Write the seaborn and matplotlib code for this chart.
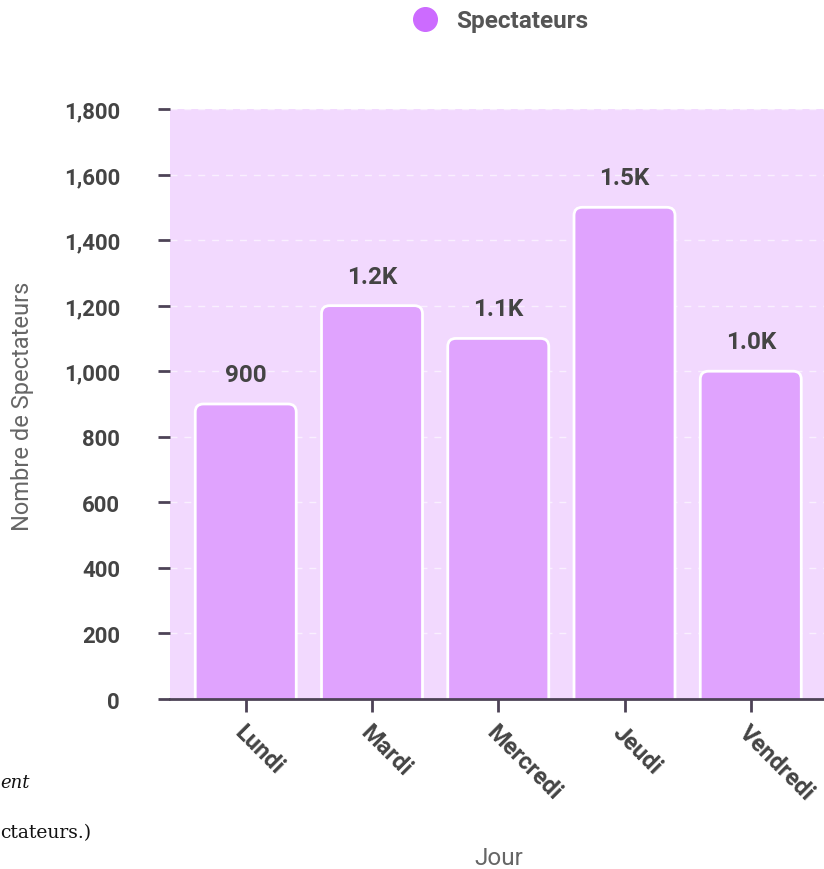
import matplotlib
matplotlib.use("Agg")
import matplotlib.pyplot as plt
import seaborn as sns
import pandas as pd
from matplotlib.patches import FancyBboxPatch
from matplotlib.lines import Line2D

# données
jours = ["Lundi", "Mardi", "Mercredi", "Jeudi", "Vendredi"]
spectateurs = [900, 1200, 1100, 1500, 1000]
etiquettes = ["900", "1.2K", "1.1K", "1.5K", "1.0K"]
yticks = [0, 200, 400, 600, 800, 1000, 1200, 1400, 1600, 1800]

sns.set_style("white")
plt.rcParams['font.family'] = ['Roboto', 'DejaVu Sans']

couleur_barre = '#e0a3fe'
couleur_fond = '#f2d9fe'
couleur_point = '#cc6bff'
couleur_axe = '#4d4356'
couleur_texte = '#444444'

df = pd.DataFrame({'Jour': jours, 'Spectateurs': spectateurs})

fig = plt.figure(figsize=(8.24, 8.7), dpi=100)
ax = fig.add_axes([0.2063, 0.1954, 0.7937, 0.6782])
ax.set_facecolor(couleur_fond)

sns.barplot(data=df, x='Jour', y='Spectateurs', color=couleur_barre,
            width=0.8, saturation=1, ax=ax)

# barres arrondies à partir des barres de seaborn
for p in list(ax.patches):
    x0, w, h = p.get_x(), p.get_width(), p.get_height()
    p.remove()
    box = FancyBboxPatch((x0, -60), w, h + 60,
                         boxstyle="round,pad=0,rounding_size=0.065",
                         mutation_aspect=380, facecolor=couleur_barre,
                         edgecolor='white', linewidth=2, zorder=3)
    ax.add_patch(box)

ax.set_xlim(-0.6, 4.58)
ax.set_ylim(0, 1800)
ax.set_yticks(yticks)
ax.set_yticklabels([f"{v:,}" for v in yticks])

# grille
ax.yaxis.grid(True, color='white', linestyle=(0, (5, 5)), linewidth=1, alpha=0.6)
ax.set_axisbelow(True)

# étiquettes des valeurs
for i, (v, lab) in enumerate(zip(spectateurs, etiquettes)):
    ax.text(i, v + 55, lab, ha='center', va='bottom', fontsize=17.5,
            fontweight='bold', color=couleur_texte, zorder=4)

for s in ['top', 'right', 'left']:
    ax.spines[s].set_visible(False)
ax.spines['bottom'].set_color(couleur_axe)
ax.spines['bottom'].set_linewidth(2)
ax.spines['bottom'].set_zorder(5)

ax.tick_params(axis='y', length=9, width=2, color=couleur_axe, pad=27,
               labelsize=16, labelcolor=couleur_texte, left=True)
ax.tick_params(axis='x', length=9, width=2, color=couleur_axe, pad=6,
               labelsize=17, labelcolor=couleur_texte, bottom=True)
for t in ax.get_yticklabels():
    t.set_fontweight('bold')
for t in ax.get_xticklabels():
    t.set_fontweight('bold')
    t.set_rotation(-45)
    t.set_ha('left')
    t.set_va('top')
    t.set_rotation_mode('anchor')

ax.set_ylabel('Nombre de Spectateurs', fontsize=17, color='#666666',
              ha='center', va='center')
ax.yaxis.set_label_coords(-0.226, 0.498)
ax.set_xlabel('Jour', fontsize=17.5, color='#666666', ha='center', va='center')
ax.xaxis.set_label_coords(0.503, -0.268)

# légende
handle = Line2D([], [], marker='o', linestyle='', markersize=17,
                markerfacecolor=couleur_point, markeredgecolor=couleur_point)
fig.legend([handle], ['Spectateurs'], loc='center', bbox_to_anchor=(0.6, 0.975),
           frameon=False, handletextpad=0.3,
           prop={'weight': 'bold', 'size': 17.5}, labelcolor='#555555')

# fragments de légende coupés
fig.text(0.0, 0.1, 'ent', fontsize=13, style='italic', family='DejaVu Serif',
         color='#111111', ha='left', va='center')
fig.text(0.0, 0.0425, 'ctateurs.)', fontsize=13.5, family='DejaVu Serif',
         color='#111111', ha='left', va='center')

fig.savefig('out.png', dpi=100)
